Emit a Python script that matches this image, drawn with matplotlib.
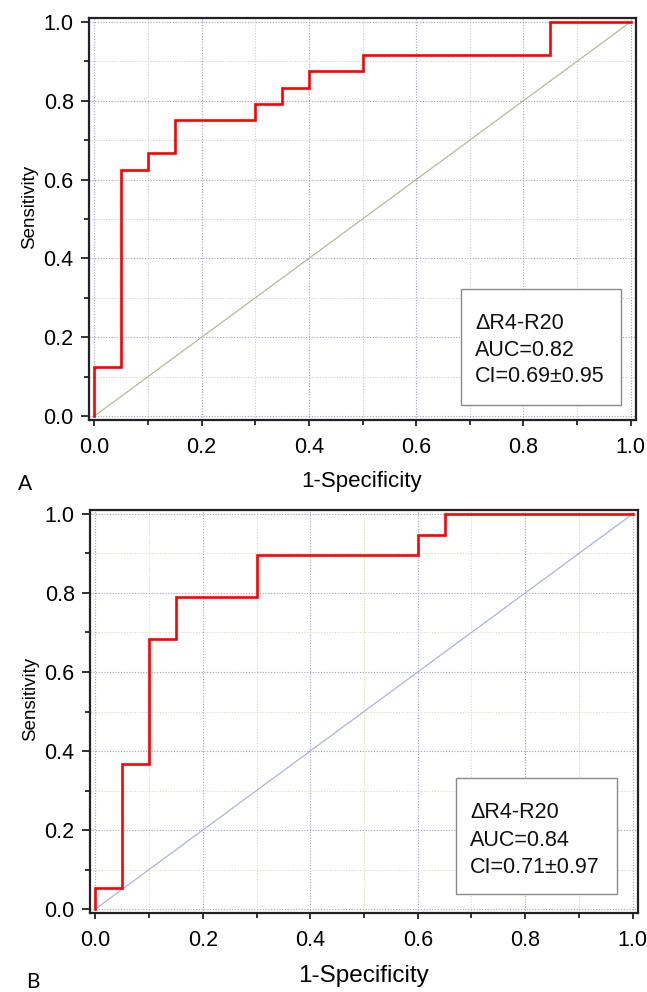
import matplotlib
matplotlib.use("Agg")
import matplotlib.pyplot as plt
from matplotlib.ticker import MultipleLocator
from matplotlib.patches import Rectangle

plt.rcParams['font.family'] = ['Liberation Sans', 'DejaVu Sans']

# ---- data ----
# Panel A: ROC step corners (1-specificity, sensitivity), drawn with where='post'
fpr_a = [0.0, 0.0, 0.05, 0.10, 0.15, 0.30, 0.35, 0.40, 0.50, 0.85, 1.0]
tpr_a = [0.0, 0.125, 0.625, 0.667, 0.75, 0.792, 0.833, 0.875, 0.917, 1.0, 1.0]
# Panel B
fpr_b = [0.0, 0.0, 0.05, 0.10, 0.15, 0.30, 0.60, 0.65, 1.0]
tpr_b = [0.0, 0.053, 0.368, 0.684, 0.789, 0.895, 0.947, 1.0, 1.0]
chance = [0.0, 1.0]

panel_labels = ["A", "B"]
box_texts = [
    ["\u0394R4-R20", "AUC=0.82", "CI=0.69\u00b10.95"],
    ["\u0394R4-R20", "AUC=0.84", "CI=0.71\u00b10.97"],
]
xlabel = "1-Specificity"
ylabel = "Sensitivity"
ticks = [0.0, 0.2, 0.4, 0.6, 0.8, 1.0]
tick_labels = ["0.0", "0.2", "0.4", "0.6", "0.8", "1.0"]

W, H = 647, 992
fig = plt.figure(figsize=(W / 100, H / 100), dpi=100)

def frac_box(l, t, r, b):
    return [l / W, 1 - b / H, (r - l) / W, (b - t) / H]

configs = [
    dict(rect=frac_box(89, 18, 636, 420), fpr=fpr_a, tpr=tpr_a,
         diag='#b9b896', minor_grid='#cfcfcf',
         xlab_y=-0.128, xlab_size=16,
         box=(0.680, 0.0373, 0.9726, 0.326), text_x=0.7057,
         text_y=[0.241, 0.172, 0.107],
         plabel=(25 / W, 1 - 484 / H)),
    dict(rect=frac_box(90, 510, 638, 913), fpr=fpr_b, tpr=tpr_b,
         diag='#aab6d6', minor_grid='#e6d8b4',
         xlab_y=-0.130, xlab_size=17.5,
         box=(0.668, 0.047, 0.9617, 0.335), text_x=0.6934,
         text_y=[0.2506, 0.181, 0.114],
         plabel=(33 / W, 1 - 982 / H)),
]

for i, c in enumerate(configs):
    ax = fig.add_axes(c['rect'])
    ax.set_xlim(-0.01, 1.01)
    ax.set_ylim(-0.01, 1.01)
    ax.xaxis.set_major_locator(MultipleLocator(0.2))
    ax.yaxis.set_major_locator(MultipleLocator(0.2))
    ax.xaxis.set_minor_locator(MultipleLocator(0.1))
    ax.yaxis.set_minor_locator(MultipleLocator(0.1))
    ax.set_xticks(ticks)
    ax.set_xticklabels(tick_labels)
    ax.set_yticks(ticks)
    ax.set_yticklabels(tick_labels)
    ax.grid(which='major', color='#a0a0cc', linestyle=(0, (1, 1.5)), linewidth=0.8)
    ax.grid(which='minor', color=c['minor_grid'], linestyle=(0, (1, 1.5)), linewidth=0.8)
    ax.set_axisbelow(True)

    ax.tick_params(axis='both', which='major', direction='out', length=5,
                   width=1.3, labelsize=15.5, color='#222222')
    ax.tick_params(axis='y', which='major', length=6, pad=5)
    ax.tick_params(axis='x', which='major', length=4, pad=8)
    ax.tick_params(axis='both', which='minor', direction='out', length=3.5,
                   width=1.3, color='#222222')
    for s in ax.spines.values():
        s.set_color('#222222')
        s.set_linewidth(1.6)

    ax.plot(chance, chance, color=c['diag'], linewidth=0.9, zorder=2)
    ax.step(c['fpr'], c['tpr'], where='post', color='#ff0000',
            linewidth=1.9, zorder=3, solid_joinstyle='miter')

    ax.set_xlabel(xlabel, fontsize=c['xlab_size'])
    ax.xaxis.set_label_coords(0.499, c['xlab_y'])
    ax.set_ylabel(ylabel, fontsize=13.5)
    ax.yaxis.set_label_coords(-0.093, 0.531)

    x0, y0, x1, y1 = c['box']
    ax.add_patch(Rectangle((x0, y0), x1 - x0, y1 - y0, transform=ax.transAxes,
                           facecolor='white', edgecolor='#8a8a8a',
                           linewidth=1.0, zorder=4))
    for line, ty in zip(box_texts[i], c['text_y']):
        ax.text(c['text_x'], ty, line, transform=ax.transAxes, fontsize=15.5,
                ha='left', va='center', zorder=5, color='#111111')

    fig.text(c['plabel'][0], c['plabel'][1], panel_labels[i], fontsize=15,
             ha='center', va='center', family=['Lato', 'DejaVu Sans'])

fig.savefig("out.png", dpi=100)
